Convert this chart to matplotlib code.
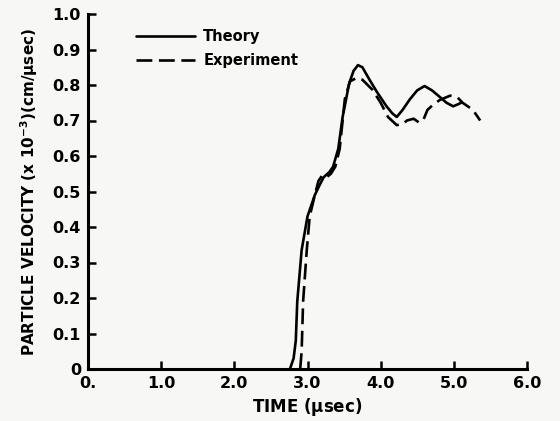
import matplotlib
matplotlib.use("Agg")
import matplotlib.pyplot as plt

theory_t = [2.76, 2.81, 2.84, 2.86, 2.92, 3.0, 3.1, 3.17, 3.22, 3.3, 3.35, 3.42, 3.48, 3.57,
            3.63, 3.69, 3.75, 3.85, 3.95, 4.08, 4.16, 4.22, 4.3, 4.4, 4.5, 4.6, 4.7,
            4.81, 4.9, 4.99, 5.05, 5.1]
theory_v = [0.0, 0.03, 0.08, 0.19, 0.335, 0.43, 0.49, 0.52, 0.54, 0.555, 0.57, 0.62, 0.71, 0.805,
            0.84, 0.856, 0.85, 0.814, 0.78, 0.74, 0.72, 0.71, 0.73, 0.76, 0.785, 0.797, 0.785,
            0.766, 0.75, 0.74, 0.745, 0.75]

exp_t = [2.9, 2.92, 2.94, 2.99, 3.03, 3.1, 3.15, 3.2, 3.26, 3.32, 3.38, 3.44, 3.51, 3.58,
         3.67, 3.75, 3.89, 4.0, 4.1, 4.22, 4.3, 4.36, 4.45, 4.52, 4.58, 4.64, 4.72, 4.81,
         4.95, 5.05, 5.12, 5.26, 5.36]
exp_v = [0.0, 0.05, 0.19, 0.335, 0.43, 0.49, 0.53, 0.545, 0.54, 0.55, 0.57, 0.62, 0.76, 0.81,
         0.82, 0.815, 0.786, 0.75, 0.71, 0.687, 0.69, 0.70, 0.705, 0.695, 0.70, 0.73, 0.745,
         0.758, 0.77, 0.765, 0.75, 0.73, 0.70]

x_ticks = [0, 1, 2, 3, 4, 5, 6]
x_labels = ["0.", "1.0", "2.0", "3.0", "4.0", "5.0", "6.0"]
y_ticks = [0, 0.1, 0.2, 0.3, 0.4, 0.5, 0.6, 0.7, 0.8, 0.9, 1.0]
y_labels = ["0", "0.1", "0.2", "0.3", "0.4", "0.5", "0.6", "0.7", "0.8", "0.9", "1.0"]

plt.rcParams['font.family'] = ['DejaVu Sans']
plt.rcParams['font.weight'] = 'bold'

fig = plt.figure(figsize=(5.6, 4.21), dpi=100)
fig.patch.set_facecolor('#f7f7f5')
ax = fig.add_axes([88/560, 52/421, 439/560, 355/421])
ax.set_facecolor('#f7f7f5')

ax.plot(theory_t, theory_v, color='black', lw=1.9, label='Theory', solid_capstyle='round')
ax.plot(exp_t, exp_v, color='black', lw=1.9, dashes=(6, 2.5), label='Experiment')

ax.set_xlim(0, 6)
ax.set_ylim(0, 1.0)
ax.set_xticks(x_ticks)
ax.set_xticklabels(x_labels, fontsize=11.5, fontweight='bold')
ax.set_yticks(y_ticks)
ax.set_yticklabels(y_labels, fontsize=11.5, fontweight='bold')
ax.tick_params(direction='in', length=6, width=1.8, pad=5)
for s in ['top', 'right']:
    ax.spines[s].set_visible(False)
for s in ['left', 'bottom']:
    ax.spines[s].set_linewidth(2.2)

ax.set_xlabel(r'TIME ($\mathbf{\mu}$sec)', fontsize=12, fontweight='bold', labelpad=4)
ax.set_ylabel(r'PARTICLE VELOCITY (x 10$^{\mathbf{-3}}$)(cm/$\mathbf{\mu}$sec)',
              fontsize=11, fontweight='bold', labelpad=9)

leg = ax.legend(loc='upper left', bbox_to_anchor=(0.08, 0.995), frameon=False,
                handlelength=4.0, handletextpad=0.6, labelspacing=0.6,
                prop={'weight': 'bold', 'size': 10.5})

fig.savefig('out.png', dpi=100, facecolor=fig.get_facecolor())
